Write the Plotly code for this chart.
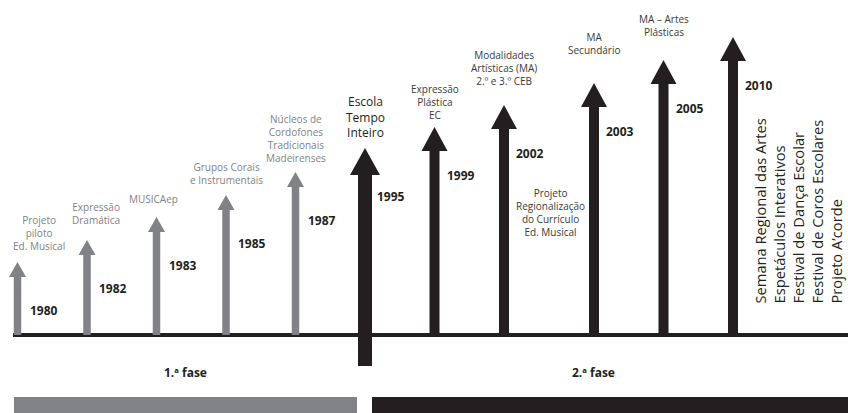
import plotly.graph_objects as go

# ---------------- data ----------------
years = ["1980", "1982", "1983", "1985", "1987", "1995", "1999", "2002", "2003", "2005", "2010"]
heights = [73, 95, 118, 140, 163, 187, 208, 230, 252, 275, 298]
phase_of = [1, 1, 1, 1, 1, 2, 2, 2, 2, 2, 2]
labels = [
    "Projeto<br>piloto<br>Ed. Musical",
    "Expressão<br>Dramática",
    "MUSICAep",
    "Grupos Corais<br>e Instrumentais",
    "Núcleos de<br>Cordofones<br>Tradicionais<br>Madeirenses",
    "Escola<br>Tempo<br>Inteiro",
    "Expressão<br>Plástica<br>EC",
    "Modalidades<br>Artísticas (MA)<br>2.º e 3.º CEB",
    "MA<br>Secundário",
    "MA – Artes<br>Plásticas",
    "",
]
label_2002_extra = "Projeto<br>Regionalização<br>do Currículo<br>Ed. Musical"
events_2010 = [
    "Semana Regional das Artes",
    "Espetáculos Interativos",
    "Festival de Dança Escolar",
    "Festival de Coros Escolares",
    "Projeto A’corde",
]
phase_names = ["1.ª fase", "2.ª fase"]

# ---------------- style / layout ----------------
W, H = 848, 413
UNIT = 69.5          # px per step
X0PX = 17.5          # px of first arrow
BASE_PX = 335        # baseline pixel row
GAP_AFTER = 7        # extra gap after this index
GAP = (90 - UNIT) / UNIT
GRAY = "#808285"
BLACK = "#231f20"
FONT = "Open Sans"
label_gap = [7, 11, 9, 6, 5, 5, 3, 15, 24, 19, 0]
label_xshift = [21, 9, -3, 0, 0, 0, 0, 0, 0, 0, 0]

pos = [i + (GAP if i > GAP_AFTER else 0) for i in range(len(years))]
px = 1.0 / UNIT  # one pixel in x data units

def arrow_poly(x, top, shaft, head, head_h, bottom=0.0):
    s, h = shaft / 2 * px, head / 2 * px
    xs = [x - s, x - s, x - h, x, x + h, x + s, x + s, x - s]
    ys = [bottom, top - head_h, top - head_h, top, top - head_h, top - head_h, bottom, bottom]
    return xs, ys

fig = go.Figure()

gx, gy, bx, by = [], [], [], []
for i, (x, h) in enumerate(zip(pos, heights)):
    if phase_of[i] == 1:
        xs, ys = arrow_poly(x, h, 7.5, 17, 15)
        gx += xs + [None]; gy += ys + [None]
    elif i == 5:
        xs, ys = arrow_poly(x, h, 14, 30, 27, bottom=-31)
        bx += xs + [None]; by += ys + [None]
    else:
        xs, ys = arrow_poly(x, h, 10, 26, 24)
        bx += xs + [None]; by += ys + [None]

fig.add_trace(go.Scatter(x=gx, y=gy, mode="lines", fill="toself", fillcolor=GRAY,
                         line=dict(width=0, color=GRAY), hoverinfo="skip", showlegend=False))
fig.add_trace(go.Scatter(x=bx, y=by, mode="lines", fill="toself", fillcolor=BLACK,
                         line=dict(width=0, color=BLACK), hoverinfo="skip", showlegend=False))

xmin = -X0PX / UNIT
xmax = (W - X0PX) / UNIT
ymin = BASE_PX - H
ymax = BASE_PX

# baseline
fig.add_shape(type="line", xref="x", yref="y", x0=xmin + 13 * px, x1=xmax, y0=0, y1=0,
              line=dict(color=BLACK, width=4), layer="below")
# phase bars
fig.add_shape(type="rect", xref="x", yref="y", x0=xmin + 14 * px, x1=xmin + 357 * px,
              y0=ymin, y1=BASE_PX - 397, fillcolor=GRAY, line=dict(width=0))
fig.add_shape(type="rect", xref="x", yref="y", x0=xmin + 372 * px, x1=xmax,
              y0=ymin, y1=BASE_PX - 397, fillcolor=BLACK, line=dict(width=0))

ann = []
for i in range(len(years)):
    x, h = pos[i], heights[i]
    ann.append(dict(x=x, y=h - 48, text="<b>" + years[i] + "</b>", xshift=26,
                    xanchor="center", yanchor="middle", showarrow=False,
                    font=dict(family=FONT, size=12, color=BLACK)))
    if labels[i]:
        if phase_of[i] == 1:
            f = dict(family=FONT, size=10, color=GRAY)
        elif i == 5:
            f = dict(family=FONT, size=12, color=BLACK)
        else:
            f = dict(family=FONT, size=10, color="#3a3a3a")
        ann.append(dict(x=x, y=h + label_gap[i], xshift=label_xshift[i], text=labels[i],
                        xanchor="center", yanchor="bottom", showarrow=False, font=f))

ann.append(dict(x=pos[7], y=BASE_PX - 212, xshift=46, text=label_2002_extra,
                xanchor="center", yanchor="middle", showarrow=False,
                font=dict(family=FONT, size=10, color="#3a3a3a")))

ann.append(dict(x=pos[10], y=BASE_PX - 306, xshift=14, text="<br>".join(events_2010),
                textangle=-90, align="left", xanchor="left", yanchor="bottom",
                showarrow=False, font=dict(family=FONT, size=14.7, color=BLACK)))

for name, cx in zip(phase_names, [185, 593]):
    ann.append(dict(x=cx / W, xref="paper", y=BASE_PX - 372, yref="y",
                    text="<b>" + name + "</b>", xanchor="center", yanchor="middle",
                    showarrow=False, font=dict(family=FONT, size=12, color=BLACK)))

fig.update_layout(
    width=W, height=H, autosize=False,
    margin=dict(l=0, r=0, t=0, b=0),
    paper_bgcolor="white", plot_bgcolor="white",
    xaxis=dict(range=[xmin, xmax], visible=False, fixedrange=True),
    yaxis=dict(range=[ymin, ymax], visible=False, fixedrange=True),
    annotations=ann,
    showlegend=False,
)

fig.write_html("out.html", config={"displayModeBar": False},
               post_script="document.body.style.margin='0';document.body.style.overflow='hidden';")
